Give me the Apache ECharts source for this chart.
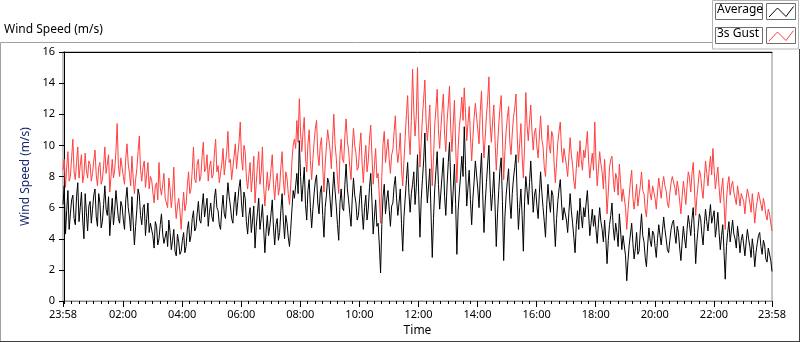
<!DOCTYPE html>
<html>
<head>
<meta charset="utf-8">
<script src="https://cdn.jsdelivr.net/npm/echarts@6/dist/echarts.min.js"></script>
<style>
html, body { margin: 0; padding: 0; background: #fff; }
#chart { width: 800px; height: 342px; }
</style>
</head>
<body>
<div id="chart"></div>
<script>
// samples every 2.5 minutes, first one at 23:58 (minute -2); one row per hour
var startMin = -2;
var stepMin = 2.5;

var averageSpeed = [
    6.2, 7.4, 4.3, 5.8, 7.1, 4.6, 5.6, 6.5, 6.8, 5.3, 4.9, 6.7, 7.6, 5.1, 6.0, 7.0, 5.2, 4.0, 6.9, 5.7, 4.5, 6.1, 6.4, 5.0,
    5.9, 6.8, 7.2, 5.4, 4.8, 6.9, 6.3, 4.7, 5.1, 6.2, 7.4, 5.9, 5.5, 6.7, 4.2, 5.5, 6.6, 4.9, 5.8, 7.1, 7.0, 5.3, 5.0, 6.4,
    6.1, 5.2, 4.6, 6.5, 7.3, 6.0, 5.4, 4.5, 6.7, 5.1, 3.6, 4.8, 5.9, 7.2, 6.8, 5.5, 4.9, 6.0, 6.2, 4.2, 5.3, 6.3, 4.4, 5.0,
    5.0, 4.2, 3.4, 5.1, 4.8, 3.6, 4.0, 4.9, 5.6, 4.3, 3.7, 4.1, 4.5, 3.5, 5.2, 4.4, 3.3, 3.9, 4.6, 3.2, 2.9, 4.3, 3.8, 3.0,
    3.2, 3.9, 4.4, 3.1, 3.5, 4.6, 5.1, 3.8, 4.2, 5.3, 5.8, 4.5, 4.7, 5.6, 6.4, 5.2, 5.0, 6.1, 6.9, 5.4, 5.5, 6.6, 4.8, 5.7,
    6.3, 5.4, 5.1, 6.6, 7.2, 6.0, 5.8, 4.9, 4.6, 5.9, 6.8, 5.6, 5.3, 6.5, 7.6, 6.7, 6.1, 5.3, 5.0, 6.3, 7.0, 5.5, 6.4, 7.3,
    7.8, 6.3, 5.4, 7.0, 6.6, 5.1, 4.3, 5.5, 6.0, 4.4, 5.2, 6.1, 3.4, 4.8, 5.7, 6.6, 4.6, 5.3, 6.2, 4.7, 3.1, 4.5, 5.5, 4.2,
    4.8, 5.6, 6.5, 4.7, 3.6, 4.9, 5.3, 3.9, 4.4, 5.8, 6.9, 5.2, 4.0, 5.5, 5.0, 4.1, 3.5, 4.6, 5.9, 7.1, 6.6, 7.4, 8.2, 6.9,
    10.3, 8.0, 6.4, 7.5, 8.6, 6.2, 5.2, 7.1, 7.8, 6.0, 4.7, 5.9, 6.9, 7.7, 8.1, 6.3, 5.6, 7.0, 7.4, 5.5, 4.1, 6.0, 6.8, 7.9,
    7.6, 6.5, 5.4, 7.0, 8.3, 7.1, 6.1, 4.9, 3.9, 6.3, 7.2, 6.0, 5.8, 7.5, 8.8, 7.2, 6.5, 5.6, 4.8, 6.6, 7.9, 6.8, 6.3, 5.2,
    5.5, 6.6, 7.4, 5.7, 4.6, 6.0, 6.8, 5.2, 5.9, 7.3, 8.2, 6.4, 4.3, 5.4, 6.5, 4.8, 5.0, 3.6, 1.8, 4.9, 6.7, 7.5, 5.6, 6.5,
    7.1, 5.9, 4.8, 6.1, 6.3, 7.4, 8.0, 6.6, 5.5, 6.3, 7.2, 5.0, 3.2, 5.4, 6.6, 7.8, 8.9, 7.0, 5.7, 6.9, 7.5, 8.3, 6.2, 7.3,
    9.4, 6.8, 4.1, 6.5, 7.8, 9.0, 10.8, 7.9, 6.3, 7.4, 8.5, 5.6, 2.8, 5.3, 7.2, 8.4, 9.6, 7.5, 5.9, 7.0, 8.1, 9.2, 6.7, 5.5,
    7.4, 8.9, 10.2, 7.6, 5.6, 7.1, 8.8, 6.2, 3.0, 5.8, 7.0, 8.1, 9.3, 8.0, 11.2, 8.7, 6.1, 7.3, 8.4, 6.5, 4.9, 6.6, 7.7, 9.0,
    8.9, 7.2, 6.0, 8.1, 9.5, 6.8, 4.4, 6.3, 7.6, 8.8, 10.0, 7.4, 5.8, 6.9, 8.3, 6.1, 3.5, 5.6, 7.1, 8.5, 9.2, 6.4, 2.6, 5.4,
    6.8, 7.7, 8.5, 6.4, 5.3, 6.9, 7.9, 8.6, 9.4, 6.7, 4.6, 6.0, 7.2, 5.5, 3.2, 6.4, 8.0, 7.1, 6.2, 7.6, 9.0, 7.4, 5.7, 6.8,
    7.2, 6.1, 5.3, 6.9, 8.3, 7.0, 6.0, 5.1, 4.1, 6.2, 7.5, 6.4, 5.7, 7.1, 6.8, 5.0, 3.5, 5.3, 6.4, 7.2, 7.8, 6.3, 5.2, 6.0,
    6.1, 5.2, 4.4, 5.7, 6.9, 5.8, 5.0, 4.1, 3.1, 4.9, 5.8, 4.6, 6.6, 5.5, 4.7, 6.0, 5.4, 6.3, 7.1, 5.6, 4.2, 5.0, 5.9, 4.8,
    5.5, 4.6, 3.7, 5.0, 6.0, 5.1, 4.6, 3.8, 5.2, 4.0, 2.4, 3.9, 4.9, 5.5, 6.3, 4.7, 3.9, 5.0, 4.4, 3.5, 5.6, 4.5, 3.3, 4.2,
    4.1, 2.9, 1.3, 2.6, 3.6, 4.3, 5.0, 3.7, 2.7, 3.4, 4.4, 3.0, 3.2, 4.5, 5.6, 4.2, 3.8, 2.8, 2.2, 3.6, 4.7, 3.9, 3.5, 4.5,
    4.3, 3.5, 2.8, 4.0, 4.9, 4.2, 3.6, 4.5, 5.4, 4.6, 4.0, 3.3, 3.1, 3.9, 4.6, 5.0, 5.2, 4.3, 3.7, 4.8, 4.4, 3.4, 2.6, 3.8,
    4.8, 4.0, 3.4, 4.6, 5.5, 4.9, 4.2, 5.3, 6.0, 4.4, 2.4, 3.8, 4.7, 5.6, 5.3, 4.3, 3.6, 4.9, 5.9, 5.1, 4.5, 5.4, 6.2, 5.0,
    5.0, 5.8, 4.1, 4.8, 5.7, 4.4, 3.3, 4.2, 4.9, 3.2, 1.4, 3.5, 4.4, 5.1, 3.8, 4.5, 5.2, 4.3, 4.0, 3.4, 4.8, 4.1, 3.1, 3.9,
    4.3, 3.6, 2.9, 3.8, 4.6, 4.0, 3.5, 2.8, 4.0, 3.3, 2.2, 3.1, 3.7, 4.2, 4.4, 3.5, 3.0, 3.9, 3.6, 2.7, 2.5, 3.4, 3.3, 2.6,
    1.9
];

var gustSpeed = [
    8.4, 9.1, 7.3, 8.6, 9.6, 7.7, 8.0, 9.2, 10.4, 8.3, 7.8, 8.9, 9.9, 7.9, 8.7, 9.4, 7.6, 8.1, 9.5, 8.4, 7.9, 9.0, 8.8, 7.7,
    8.2, 9.0, 9.7, 8.1, 7.4, 8.6, 8.9, 7.5, 7.8, 8.7, 9.9, 8.2, 8.3, 9.4, 7.0, 8.0, 9.1, 7.9, 8.4, 9.6, 11.4, 8.7, 8.0, 9.2,
    8.6, 8.0, 7.5, 9.2, 10.1, 8.8, 8.2, 7.4, 9.3, 7.9, 6.9, 7.8, 8.5, 9.6, 10.6, 8.4, 7.7, 8.6, 9.0, 7.3, 8.1, 8.9, 7.2, 8.0,
    7.8, 7.0, 6.3, 7.4, 7.6, 6.5, 8.9, 7.3, 6.8, 7.5, 8.2, 6.6, 6.5, 6.0, 7.9, 7.2, 6.0, 6.9, 8.6, 6.4, 5.3, 6.1, 6.6, 5.8,
    4.6, 6.0, 7.0, 5.8, 6.2, 7.4, 8.3, 6.9, 7.2, 8.4, 9.9, 7.8, 7.6, 8.8, 9.1, 7.7, 8.0, 9.3, 10.2, 8.3, 8.5, 9.4, 7.7, 8.6,
    9.0, 7.9, 8.1, 9.5, 10.4, 8.3, 8.7, 7.6, 7.5, 8.8, 9.8, 8.1, 8.2, 9.6, 10.9, 8.9, 9.1, 7.8, 7.9, 9.3, 10.1, 8.5, 9.4, 10.2,
    11.5, 9.2, 8.4, 10.0, 9.6, 7.9, 7.2, 8.1, 8.9, 7.0, 8.0, 9.3, 6.3, 7.6, 8.7, 9.6, 7.5, 8.2, 9.9, 7.4, 6.1, 7.2, 8.3, 7.1,
    7.6, 8.5, 9.4, 7.5, 6.5, 7.7, 8.2, 6.8, 7.3, 8.6, 9.6, 7.8, 6.8, 8.3, 7.9, 6.9, 6.2, 7.4, 9.0, 10.0, 10.4, 9.8, 11.6, 10.2,
    13.0, 10.8, 9.6, 10.9, 11.8, 9.2, 8.3, 10.1, 11.0, 9.0, 7.8, 9.1, 10.2, 11.1, 11.6, 9.4, 8.7, 10.0, 10.5, 8.6, 7.0, 8.8, 9.9, 11.0,
    11.0, 9.7, 8.5, 10.3, 12.0, 10.1, 9.2, 7.9, 6.9, 9.4, 10.4, 9.1, 8.9, 10.6, 11.7, 10.3, 9.7, 8.6, 7.8, 9.8, 11.1, 10.0, 9.5, 8.4,
    8.6, 9.9, 10.8, 8.8, 7.6, 9.1, 10.0, 8.3, 9.0, 10.4, 11.3, 9.3, 7.5, 8.7, 9.8, 7.9, 8.2, 6.7, 5.0, 8.0, 10.1, 10.9, 8.9, 9.7,
    10.4, 9.1, 8.2, 9.4, 9.7, 10.9, 11.9, 9.8, 8.9, 9.6, 10.8, 8.5, 7.4, 9.0, 10.5, 12.0, 13.2, 10.7, 9.4, 11.6, 14.9, 12.2, 10.6, 11.9,
    15.0, 10.9, 8.6, 10.2, 11.8, 13.0, 14.2, 11.5, 10.3, 11.4, 12.6, 9.5, 7.4, 9.2, 11.3, 12.4, 13.6, 11.0, 9.8, 11.1, 12.3, 13.3, 10.7, 9.6,
    11.5, 12.6, 13.8, 11.0, 9.6, 11.3, 12.9, 10.0, 7.6, 9.8, 11.2, 12.0, 13.1, 11.6, 13.7, 12.1, 10.3, 11.4, 12.5, 10.6, 9.0, 10.5, 11.8, 12.7,
    12.8, 11.0, 10.1, 12.2, 13.5, 10.8, 9.2, 10.5, 11.9, 12.9, 14.4, 11.4, 10.2, 11.5, 12.6, 10.3, 8.4, 9.9, 11.3, 12.4, 13.2, 10.6, 7.8, 9.6,
    10.9, 11.8, 12.5, 10.2, 9.4, 10.8, 11.8, 12.4, 13.3, 10.6, 8.9, 10.1, 11.4, 9.3, 7.9, 10.0, 13.4, 11.3, 10.3, 11.5, 12.6, 10.9, 9.7, 10.8,
    11.1, 9.9, 9.2, 10.6, 11.9, 10.4, 9.9, 8.6, 8.0, 9.7, 11.3, 10.0, 9.5, 10.9, 10.6, 8.8, 7.6, 8.9, 10.2, 10.9, 11.5, 9.7, 8.9, 9.8,
    9.8, 8.7, 8.0, 9.3, 10.5, 9.4, 8.7, 7.7, 7.2, 8.5, 9.6, 8.6, 10.3, 9.1, 8.4, 9.7, 9.2, 10.0, 10.9, 9.0, 7.9, 8.8, 9.5, 8.4,
    11.5, 9.0, 7.4, 8.5, 9.6, 8.8, 8.3, 7.2, 9.1, 7.5, 5.6, 7.0, 8.6, 9.1, 9.3, 7.9, 7.0, 8.2, 7.9, 6.8, 8.8, 7.6, 6.4, 7.2,
    7.3, 6.0, 4.6, 5.8, 6.8, 7.7, 8.4, 6.6, 5.9, 6.7, 7.5, 6.1, 6.2, 7.4, 8.3, 7.1, 6.9, 5.9, 5.4, 6.6, 7.8, 6.9, 6.5, 7.4,
    7.4, 6.6, 5.9, 7.0, 7.9, 7.2, 6.6, 7.5, 8.0, 7.4, 7.1, 6.3, 6.0, 6.9, 7.6, 8.0, 8.1, 7.3, 6.8, 7.7, 7.2, 6.4, 5.6, 6.7,
    7.7, 7.0, 6.2, 7.4, 8.3, 7.9, 7.0, 8.2, 8.9, 7.2, 5.5, 6.7, 7.5, 8.4, 8.1, 7.2, 6.6, 7.8, 9.0, 8.2, 7.4, 8.5, 9.3, 8.1,
    9.8, 8.4, 7.2, 7.9, 8.6, 7.3, 6.3, 7.2, 7.9, 6.4, 4.6, 6.5, 7.5, 8.0, 6.8, 7.4, 7.7, 7.0, 6.9, 6.2, 7.4, 6.8, 6.1, 6.9,
    7.0, 6.4, 5.6, 6.6, 7.2, 6.8, 6.3, 5.7, 6.9, 6.1, 5.0, 5.9, 6.4, 7.0, 7.1, 6.2, 5.8, 6.6, 6.2, 5.5, 5.2, 5.9, 5.6, 5.0,
    4.5
];

var majorTicks = [-2, 120, 240, 360, 480, 600, 720, 840, 960, 1080, 1200, 1320, 1438];
var minorTicks = [];
for (var t = 0; t < 1440; t += 15) minorTicks.push(t);

function toPairs(values) {
    var out = [];
    for (var i = 0; i < values.length; i++) {
        out.push([startMin + i * stepMin, values[i]]);
    }
    return out;
}

function pad(n) { return (n < 10 ? '0' : '') + n; }
function timeLabel(v) {
    var m = ((Math.round(v) % 1440) + 1440) % 1440;
    return pad(Math.floor(m / 60)) + ':' + pad(m % 60);
}

var fontName = 'Noto Sans';
var chart = echarts.init(document.getElementById('chart'));
var option = {
    animation: false,
    textStyle: { fontFamily: fontName },
    grid: {
        left: 63, right: 28, top: 52, bottom: 39,
        show: true, borderColor: '#8c8c8c', borderWidth: 1,
        backgroundColor: '#fff'
    },
    xAxis: [{
        type: 'value', position: 'bottom',
        min: -2, max: 1438,
        name: 'Time', nameLocation: 'middle', nameGap: 24,
        nameTextStyle: { color: '#000', fontSize: 12, fontFamily: fontName },
        axisLine: { show: true, lineStyle: { color: '#8c8c8c' } },
        axisTick: { show: true, length: 6, customValues: majorTicks, lineStyle: { color: '#000', width: 1 } },
        axisLabel: {
            customValues: majorTicks, margin: 8,
            color: '#000', fontSize: 11, fontFamily: fontName,
            formatter: timeLabel
        },
        splitLine: { show: false }
    }, {
        type: 'value', position: 'bottom',
        min: -2, max: 1438,
        axisLine: { show: false },
        axisTick: { show: true, length: 3, customValues: minorTicks, lineStyle: { color: '#000' } },
        axisLabel: { show: false },
        splitLine: { show: false }
    }, {
        type: 'value', position: 'top',
        min: -2, max: 1438,
        axisLine: { show: true, lineStyle: { color: '#000' } },
        axisTick: { show: false },
        axisLabel: { show: false },
        splitLine: { show: false }
    }],
    yAxis: {
        type: 'value', min: 0, max: 16, interval: 2,
        name: 'Wind Speed (m/s)', nameLocation: 'middle', nameGap: 25,
        nameTextStyle: { color: '#14286e', fontSize: 12, fontFamily: fontName },
        axisLine: { show: true, lineStyle: { color: '#000' } },
        axisTick: { show: true, length: 5, lineStyle: { color: '#000' } },
        axisLabel: { margin: 8, color: '#000', fontSize: 11, fontFamily: fontName },
        splitLine: { show: false }
    },
    series: [{
        name: '3s Gust',
        type: 'line',
        data: toPairs(gustSpeed),
        showSymbol: false,
        lineStyle: { color: '#ff4040', width: 1 },
        itemStyle: { color: '#ff4040' }
    }, {
        name: 'Average',
        type: 'line',
        data: toPairs(averageSpeed),
        showSymbol: false,
        lineStyle: { color: '#000', width: 1 },
        itemStyle: { color: '#000' }
    }],
    graphic: [
        // outer frame
        { type: 'polyline', silent: true, shape: { points: [[0.5, 341], [0.5, 42.5], [712, 42.5]] }, style: { stroke: '#a0a0a0', lineWidth: 1, fill: null } },
        { type: 'line', silent: true, shape: { x1: 0, y1: 341.5, x2: 800, y2: 341.5 }, style: { stroke: '#404040', lineWidth: 1 } },
        { type: 'line', silent: true, shape: { x1: 799.5, y1: 49, x2: 799.5, y2: 342 }, style: { stroke: '#404040', lineWidth: 1 } },
        // title
        { type: 'text', left: 4, top: 24, style: { text: 'Wind Speed (m/s)', fill: '#000', font: '12px "' + fontName + '"' } },
        // legend panel
        { type: 'rect', silent: true, shape: { x: 712.5, y: 0.5, width: 86, height: 48.5 }, style: { fill: '#fff', stroke: '#b4b4b4', lineWidth: 1 } },
        { type: 'rect', silent: true, shape: { x: 715.5, y: 3.5, width: 47, height: 16 }, style: { fill: '#fff', stroke: '#6e6e6e', lineWidth: 1 } },
        { type: 'text', left: 717, top: 4, style: { text: 'Average', fill: '#000', font: '12px "' + fontName + '"' } },
        { type: 'rect', silent: true, shape: { x: 766.5, y: 3.5, width: 29, height: 16 }, style: { fill: '#fff', stroke: '#6e6e6e', lineWidth: 1 } },
        { type: 'polyline', silent: true, shape: { points: [[769, 17], [777.5, 8], [786, 16.5], [793.5, 6.5]] }, style: { stroke: '#000', lineWidth: 1, fill: null } },
        { type: 'rect', silent: true, shape: { x: 715.5, y: 27.5, width: 47, height: 16 }, style: { fill: '#fff', stroke: '#6e6e6e', lineWidth: 1 } },
        { type: 'text', left: 717, top: 28, style: { text: '3s Gust', fill: '#000', font: '12px "' + fontName + '"' } },
        { type: 'rect', silent: true, shape: { x: 766.5, y: 27.5, width: 29, height: 16 }, style: { fill: '#fff', stroke: '#6e6e6e', lineWidth: 1 } },
        { type: 'polyline', silent: true, shape: { points: [[769, 41], [777.5, 32], [786, 40.5], [793.5, 30.5]] }, style: { stroke: '#ff4040', lineWidth: 1, fill: null } }
    ]
};
chart.setOption(option);
window.addEventListener('resize', function () {
    chart.resize();
});
</script>
</body>
</html>
